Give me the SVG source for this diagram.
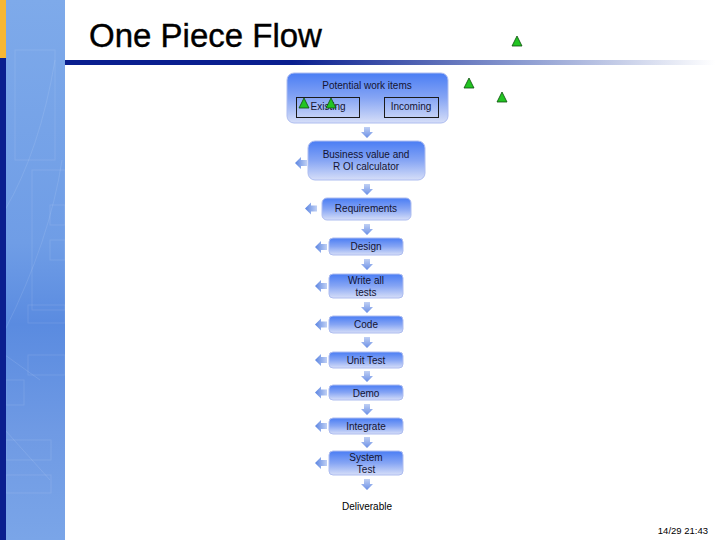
<svg xmlns="http://www.w3.org/2000/svg" width="720" height="540" viewBox="0 0 720 540">
<defs>
<linearGradient id="panel" x1="0" y1="0" x2="0" y2="1">
<stop offset="0" stop-color="#7eaaea"/>
<stop offset="0.45" stop-color="#6f9de6"/>
<stop offset="0.6" stop-color="#5a8be0"/>
<stop offset="0.8" stop-color="#6f9ae4"/>
<stop offset="1" stop-color="#7aa5e8"/>
</linearGradient>
<linearGradient id="rule" x1="0" y1="0" x2="1" y2="0">
<stop offset="0" stop-color="#0a1f8f"/>
<stop offset="0.35" stop-color="#0a1f8f"/>
<stop offset="0.7" stop-color="#8a9ad0"/>
<stop offset="1" stop-color="#ffffff"/>
</linearGradient>
<linearGradient id="box" x1="0" y1="0" x2="0" y2="1">
<stop offset="0" stop-color="#4a7df4"/>
<stop offset="0.5" stop-color="#86a5f4"/>
<stop offset="1" stop-color="#d6def8"/>
</linearGradient>
<linearGradient id="arr" x1="0" y1="0" x2="0" y2="1">
<stop offset="0" stop-color="#c0d0f4"/>
<stop offset="1" stop-color="#6a8fe6"/>
</linearGradient>
<linearGradient id="larr" x1="0" y1="0" x2="1" y2="0">
<stop offset="0" stop-color="#5a84e2"/>
<stop offset="1" stop-color="#c0d0f4"/>
</linearGradient>
<path id="down" d="M-3,0 H3 V5 H6 L0,11 L-6,5 H-3 Z" fill="url(#arr)"/>
<path id="left" d="M0,0 L6,-6 V-3 H12 V3 H6 V6 Z" fill="url(#larr)"/>
<path id="tri" d="M0,-5 L5,5 H-5 Z" fill="#22c422" stroke="#0d4d0d" stroke-width="0.8"/>
<style>
.bx{fill:url(#box);stroke:#aebdf0;stroke-width:1}
.t{font-family:"Liberation Sans",Arial,sans-serif;font-size:10px;fill:#141432;text-anchor:middle}
.in{fill:none;stroke:#1a1a1a;stroke-width:1}
.deco{fill:none;stroke:#ffffff;stroke-opacity:0.1;stroke-width:1}
</style>
</defs>
<rect width="720" height="540" fill="#ffffff"/>
<!-- left panel -->
<rect x="0" y="0" width="65" height="540" fill="url(#panel)"/>
<g class="deco">
<rect x="15" y="50" width="40" height="110"/>
<path d="M5,210 Q40,150 55,60"/>
<path d="M5,330 Q50,240 62,160"/>
<rect x="32" y="170" width="33" height="140"/>
<rect x="50" y="205" width="15" height="20"/>
<rect x="50" y="240" width="15" height="20"/>
<rect x="28" y="305" width="37" height="18"/>
<rect x="28" y="355" width="37" height="20"/>
<rect x="6" y="380" width="18" height="25"/>
<rect x="6" y="440" width="45" height="20"/>
<rect x="6" y="475" width="45" height="18"/>
<path d="M5,355 L40,380"/>
<path d="M5,430 L50,480"/>
</g>
<rect x="0" y="0" width="6" height="58" fill="#f7b733"/>
<rect x="0" y="58" width="6" height="482" fill="#0a1f8f"/>
<!-- title -->
<text x="89" y="47" font-family="'Liberation Sans',Arial,sans-serif" font-size="33" fill="#000000" stroke="#000" stroke-width="0.4">One Piece Flow</text>
<rect x="65" y="60" width="650" height="5" fill="url(#rule)"/>
<!-- connectors -->
<g id="connectors">
<use href="#down" x="367" y="127"/>
<use href="#down" x="367" y="184"/>
<use href="#down" x="367" y="224"/>
<use href="#down" x="367" y="259"/>
<use href="#down" x="367" y="302"/>
<use href="#down" x="367" y="337"/>
<use href="#down" x="367" y="371"/>
<use href="#down" x="367" y="404"/>
<use href="#down" x="367" y="437"/>
<use href="#down" x="367" y="479"/>
<use href="#left" x="295" y="163"/>
<use href="#left" x="305" y="208.5"/>
<use href="#left" x="315" y="247"/>
<use href="#left" x="315" y="286"/>
<use href="#left" x="315" y="324.5"/>
<use href="#left" x="315" y="360"/>
<use href="#left" x="315" y="392.5"/>
<use href="#left" x="315" y="426"/>
<use href="#left" x="315" y="463"/>
</g>
<!-- nodes -->
<g id="potential">
<rect class="bx" x="287" y="73" width="161" height="50" rx="7"/>
<text class="t" x="367" y="89">Potential work items</text>
</g>
<g id="existing">
<rect class="in" x="296.5" y="97.5" width="63" height="20"/>
<text class="t" x="328" y="110">Existing</text>
</g>
<g id="incoming">
<rect class="in" x="384.5" y="97.5" width="54" height="20"/>
<text class="t" x="411" y="110">Incoming</text>
</g>
<g id="business">
<rect class="bx" x="308" y="141" width="117" height="39" rx="7"/>
<text class="t" x="366" y="158">Business value and</text>
<text class="t" x="366" y="170">R OI calculator</text>
</g>
<g id="requirements">
<rect class="bx" x="322" y="198" width="89" height="22" rx="5"/>
<text class="t" x="366" y="212">Requirements</text>
</g>
<g id="design">
<rect class="bx" x="329" y="238" width="74" height="17" rx="4"/>
<text class="t" x="366" y="250">Design</text>
</g>
<g id="write">
<rect class="bx" x="329" y="274" width="74" height="24" rx="4"/>
<text class="t" x="366" y="284">Write all</text>
<text class="t" x="366" y="296">tests</text>
</g>
<g id="code">
<rect class="bx" x="329" y="316" width="74" height="17" rx="4"/>
<text class="t" x="366" y="328">Code</text>
</g>
<g id="unittest">
<rect class="bx" x="329" y="352" width="74" height="16" rx="4"/>
<text class="t" x="366" y="364">Unit Test</text>
</g>
<g id="demo">
<rect class="bx" x="329" y="385" width="74" height="15" rx="4"/>
<text class="t" x="366" y="397">Demo</text>
</g>
<g id="integrate">
<rect class="bx" x="329" y="418" width="74" height="16" rx="4"/>
<text class="t" x="366" y="430">Integrate</text>
</g>
<g id="systemtest">
<rect class="bx" x="329" y="451" width="74" height="24" rx="4"/>
<text class="t" x="366" y="461">System</text>
<text class="t" x="366" y="473">Test</text>
</g>
<g id="deliverable">
<text class="t" x="367" y="510" style="fill:#000">Deliverable</text>
</g>
<!-- triangles -->
<use href="#tri" x="517" y="41"/>
<use href="#tri" x="469" y="83"/>
<use href="#tri" x="502" y="97"/>
<use href="#tri" x="304" y="103"/>
<use href="#tri" x="331" y="103"/>
<text x="708" y="534" font-family="'Liberation Sans',Arial,sans-serif" font-size="9.5" fill="#000" text-anchor="end">14/29 21:43</text>
</svg>
